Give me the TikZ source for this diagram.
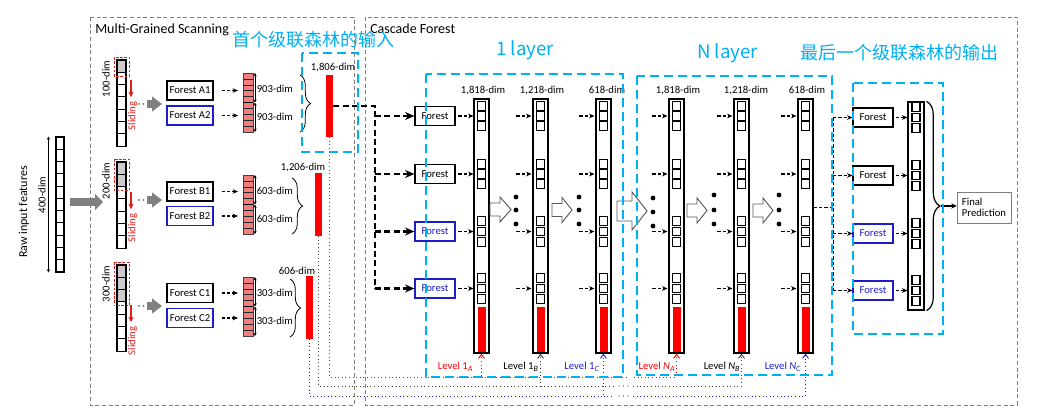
\documentclass[tikz,border=0pt]{standalone}
\usepackage{fontspec}
\setmainfont{Carlito}
\newfontfamily\cjkfont{Noto Sans CJK SC}
\usetikzlibrary{arrows.meta,decorations.pathreplacing,calc}
\definecolor{cyanb}{RGB}{0,176,240}
\definecolor{pinkv}{RGB}{240,128,128}
\definecolor{fblue}{RGB}{30,30,200}
\definecolor{gbrd}{RGB}{125,125,125}
\definecolor{kdot}{RGB}{60,60,60}
\definecolor{lred}{RGB}{225,30,30}
\newcommand\fsz[1]{\fontsize{#1}{#1}\selectfont}
\newcommand\hollowarr[6]{\draw[hollow] (#1,#4-#5) -- (#2,#4-#5) -- (#2,#4-#6) -- (#3,#4) -- (#2,#4+#6) -- (#2,#4+#5) -- (#1,#4+#5) -- cycle;}
\tikzset{
  outerbox/.style={draw=gbrd, line width=0.6pt, dash pattern=on 3pt off 2pt},
  cyanbox/.style={draw=cyanb, line width=2.2pt, dash pattern=on 7pt off 3.5pt},
  forestA/.style={draw=black, line width=0.9pt, minimum width=34.5pt, minimum height=14.25pt, inner sep=0pt, font=\fsz{8}},
  forestB/.style={forestA, draw=fblue},
  cforest/.style={draw=black, line width=0.9pt, minimum width=30pt, minimum height=14.25pt, inner sep=0pt, font=\fsz{8}},
  cforestb/.style={cforest, draw=fblue, text=fblue},
  col/.style={draw=black, line width=0.9pt, minimum width=11.25pt, minimum height=190.5pt, inner sep=0pt},
  sq/.style={draw=black, line width=0.8pt},
  redbar/.style={fill=red, draw=none, minimum width=5.25pt, inner sep=0pt},
  dasharr/.style={draw=black, line width=0.8pt, dash pattern=on 2.5pt off 1.5pt, -{Stealth[length=4pt,width=3.5pt]}},
  bigdash/.style={draw=black, line width=1.6pt, dash pattern=on 4.5pt off 2.5pt},
  bigdasharr/.style={bigdash, -{Stealth[length=7pt,width=6pt]}},
  thindash/.style={draw=black, line width=0.7pt, dash pattern=on 2.5pt off 1.5pt},
  thindasharr/.style={thindash, -{Stealth[length=4pt,width=3.5pt]}},
  hollow/.style={draw=gray!70!black, fill=white, line width=0.7pt},
  lbl/.style={font=\fsz{8}, inner sep=0pt},
  cytext/.style={text=cyanb, font=\cjkfont\fsz{13.5}, inner sep=0pt},
  lvl/.style={dotted, line width=0.7pt},
  lvlarr/.style={lvl, -{Straight Barb[length=3pt,width=4.5pt]}},
  dimarr/.style={line width=0.5pt, {Stealth[length=2.5pt,width=2.5pt]}-{Stealth[length=2.5pt,width=2.5pt]}},
  bracedeco/.style={decorate, decoration={brace, amplitude=#1}},
}
\begin{document}
\begin{tikzpicture}[x=0.75pt,y=-0.75pt]
\useasboundingbox (0,0) rectangle (1039,415);

% outer boxes
\draw[outerbox] (90,17) rectangle (354,405);
\draw[outerbox] (365,17) rectangle (1017,405);
\node[anchor=base west, font=\fsz{10.5}, inner sep=0] (tms) at (95,33) {Multi-Grained Scanning};
\node[anchor=base west, font=\fsz{10.5}, inner sep=0] (tcf) at (370,33) {Cascade Forest};

% raw input
\node[draw, line width=0.8pt, minimum width=6pt, minimum height=101.25pt, inner sep=0] (raw) at (60,204.5) {};
\foreach \i in {1,...,10} \draw[line width=0.8pt] (56,137+\i*12.27) -- (64,137+\i*12.27);
\draw[dimarr, line width=0.6pt] ($(raw.north west)+(-7,0)$) -- ($(raw.south west)+(-7,0)$);
\node[lbl, rotate=90] (d400) at (42,195) {400-dim};
\node[lbl, rotate=90, font=\fsz{9}] (rif) at (24,212) {Raw input features};
\coordinate (ga1) at (70,202); \coordinate (ga2) at (103,202);
\draw[gray, line width=6pt, -{Triangle[length=6pt,width=12pt]}] (ga1) -- (ga2);

% scanning columns
\foreach \nm/\ty/\ng/\lab/\sy in {sa/60/1/100/80, sb/162/2/200/192, sc/265/3/300/305} {
  \node[minimum width=6.75pt, minimum height=64.575pt, inner sep=0] (\nm) at (121.5,\ty+43.05) {};
  \fill[gray!40] (117,\ty) rectangle (126,\ty+\ng*12.3);
  \foreach \i in {0,...,6} \draw[line width=0.8pt] (117,\ty+\i*12.3) rectangle ++(9,12.3);
  \draw[lred, dash pattern=on 2pt off 1.2pt, line width=0.7pt] (114,\ty-3) rectangle (129,\ty+\ng*12.3+4);
  \draw[lred, line width=1pt, -{Stealth[length=4pt,width=4pt]}] (131,\sy) -- (131,\sy+17);
  \node[lbl, rotate=90, text=lred] at (132.5,\sy+36) {Sliding};
  \node[lbl, rotate=90] at (106,\ty+19) {\lab-dim};
}
\foreach \ay in {104,200,306} {
  \fill[gray] (139,\ay) circle (0.9pt);
  \fill[gray] (143.5,\ay) circle (0.9pt);
  \draw[gray, line width=6pt, -{Triangle[length=7.5pt,width=11pt]}] (147,\ay) -- (162,\ay);
}

% forest boxes (scanning)
\node[forestA] (fa1) at (190,90.5) {Forest A1};
\node[forestB] (fa2) at (190,115.5) {Forest A2};
\node[forestA] (fb1) at (190,191.5) {Forest B1};
\node[forestB] (fb2) at (190,216) {Forest B2};
\node[forestA] (fc1) at (190,293) {Forest C1};
\node[forestB] (fc2) at (190,318) {Forest C2};

% pink vectors
\foreach \nm/\ty/\dl in {pa/73/903, pb/175/603, pc/277/303} {
  \node[fill=pinkv, draw=gray!50!black, line width=0.6pt, minimum width=7.5pt, minimum height=44.25pt, inner sep=0] (\nm) at (248,\ty+29.5) {};
  \foreach \i in {1,...,9} \draw[gray!30!black, line width=0.35pt] (243,\ty+\i*5.9) -- (253,\ty+\i*5.9);
  \draw[black, line width=1pt] (243,\ty+29.5) -- (253,\ty+29.5);
  \draw[dimarr] (255,\ty) -- (255,\ty+29.5);
  \draw[dimarr] (255,\ty+29.5) -- (255,\ty+59);
  \node[lbl, anchor=west] at (256.5,\ty+15.5) {\dl-dim};
  \node[lbl, anchor=west] at (256.5,\ty+44) {\dl-dim};
}
\foreach \f/\p in {fa1/pa, fa2/pa, fb1/pb, fb2/pb, fc1/pc, fc2/pc}
  \draw[dasharr, shorten >=3.5pt] ([xshift=6pt]\f.east) -- (\p.west |- \f);

% braces
\draw[bracedeco=8pt, line width=0.6pt] (300,75) -- (300,132);
\draw[bracedeco=8pt, line width=0.6pt] (292,178) -- (292,234);
\draw[bracedeco=8pt, line width=0.6pt] (290,279) -- (290,337);

% concatenated vectors
\node[redbar, minimum height=46.5pt] (ra) at (329.5,106) {};
\node[redbar, minimum height=47.25pt] (rb) at (318.5,204.5) {};
\node[redbar, minimum height=47.25pt] (rc) at (309,307.5) {};
\node[lbl] at (333,67) {1,806-dim};
\node[lbl] at (303,167) {1,206-dim};
\node[lbl] at (297,271) {606-dim};

% cascade level-1 forests
\node[cforest] (cf1) at (435,116) {Forest};
\node[cforest] (cf2) at (435,174) {Forest};
\node[cforestb] (cf3) at (435,231.5) {Forest};
\node[cforestb] (cf4) at (435,288.5) {Forest};
\coordinate (jx) at (375,106);
\draw[bigdash] (ra.east) -- (jx) -- (jx |- cf4);
\foreach \f in {cf1,cf2,cf3,cf4} \draw[bigdasharr] (jx |- \f) -- (\f.west);

\coordinate (r1) at (0,116);
\coordinate (r2) at (0,174);
\coordinate (r3) at (0,231.5);
\coordinate (r4) at (0,288.5);

% cascade columns
\foreach \nm/\cx in {c1a/481.5, c1b/540.5, c1c/603.5, cna/676.5, cnb/741.5, cnc/805.5} {
  \node[col] (\nm) at (\cx,226) {};
  \foreach \gy in {116,174,231.5,288.5}
    \foreach \k in {0,1,2} \draw[sq] (\cx-4,\gy-14.7+\k*10.3) rectangle ++(8,8.8);
  \node[redbar, minimum width=6pt, minimum height=33.75pt] at (\cx,329.5) {};
}
\foreach \f in {cf1,cf2,cf3,cf4} \draw[dasharr] ([xshift=2pt]\f.east) -- (c1a.west |- \f);
\foreach \nm in {c1b, c1c, cna, cnb, cnc}
  \foreach \r in {r1,r2,r3,r4}
    \draw[dasharr] ($(\nm.west |- \r)+(-16,0)$) -- ($(\nm.west |- \r)+(-1,0)$);

\node[lbl] at (483,90) {1,818-dim};
\node[lbl] at (542,90) {1,218-dim};
\node[lbl] at (607,90) {618-dim};
\node[lbl] at (678,90) {1,818-dim};
\node[lbl] at (746,90) {1,218-dim};
\node[lbl] at (807,90) {618-dim};

% hollow arrows and dots
\hollowarr{490}{500}{511}{209.5}{6.5}{12.5}
\hollowarr{552}{562}{572}{210}{6.5}{12.5}
\hollowarr{617}{632}{647}{211}{10}{19}
\hollowarr{687}{697}{707}{210.5}{6.5}{12.5}
\hollowarr{753}{763}{773}{210.5}{6.5}{12.5}
\foreach \dx/\dy in {516/197, 516/210, 516/224, 579/197, 579/210, 579/224, 653/198, 653/212, 653/226, 714/195, 714/210, 714/224, 779/195, 779/210, 779/224}
  \fill (\dx,\dy) circle (1.8pt);

% final stage
\node[cforest] (fd1) at (873,117.5) {Forest};
\node[cforest] (fd2) at (873,175.5) {Forest};
\node[cforestb] (fd3) at (873,233.5) {Forest};
\node[cforestb] (fd4) at (873,290.5) {Forest};
\node[col, minimum width=12pt, minimum height=156pt] (fcol) at (916,206) {};
\foreach \gy in {117.5,175.5,233.5,290.5}
  \foreach \k in {0,1,2} \draw[sq] (912,\gy-14.7+\k*10.3) rectangle ++(8,8.8);
\coordinate (jy) at (833,207);
\draw[thindash] (cnc.east |- jy) -- (jy);
\draw[thindash] (jy |- fd1) -- (jy |- fd4);
\foreach \f in {fd1,fd2,fd3,fd4} {
  \draw[thindasharr] (jy |- \f) -- (\f.west);
  \draw[dasharr] ([xshift=1.5pt]\f.east) -- (fcol.west |- \f);
}
\draw[bracedeco=10pt, line width=0.9pt] ($(fcol.north east)+(2,0)$) -- ($(fcol.south east)+(2,0)$);
\node[draw=gbrd, line width=0.6pt, minimum width=40.5pt, minimum height=23.25pt, align=left, font=\fsz{8}, inner sep=2pt] (fp) at (984,207.5) {Final\\Prediction};
\coordinate (bt) at (941,206);
\draw[line width=0.8pt, -{Stealth[length=4pt,width=4pt]}] (bt) -- (fp.west |- bt);

% level feeds
\coordinate (yr) at (0,377);
\coordinate (yk) at (0,386);
\coordinate (yb) at (0,396);
\draw[lvlarr, red] (ra.south) |- (c1a.south |- yr) -- (c1a.south);
\draw[lvl, red] (c1a.south |- yr) -- (628,377);
\draw[lvlarr, red] (634,377) -| (cna.south);
\draw[lvlarr, kdot] (rb.south) |- (c1b.south |- yk) -- (c1b.south);
\draw[lvl, kdot] (c1b.south |- yk) -- (613,386);
\draw[lvlarr, kdot] (633,386) -| (cnb.south);
\draw[lvlarr, fblue] (rc.south) |- (c1c.south |- yb) -- (c1c.south);
\draw[lvl, fblue] (c1c.south |- yb) -- (613,396);
\draw[lvlarr, fblue] (633,396) -| (cnc.south);
\foreach \dx in {619,623.5,628} {
  \fill[kdot] (\dx,386) circle (0.5pt);
  \fill[fblue] (\dx,396) circle (0.5pt);
}
\node[lbl, text=red] at (455.5,367) {Level 1\textsubscript{\textit{A}}};
\node[lbl] at (521,367) {Level 1\textsubscript{\textit{B}}};
\node[lbl, text=fblue] at (582,367) {Level 1\textsubscript{\textit{C}}};
\node[lbl, text=red] at (657,367) {Level \textit{N}\textsubscript{\textit{A}}};
\node[lbl] at (722,367) {Level \textit{N}\textsubscript{\textit{B}}};
\node[lbl, text=fblue] at (783,367) {Level \textit{N}\textsubscript{\textit{C}}};

% cyan annotations
\node[cytext] (cin) at (313.5,40) {首个级联森林的输入};
\node[cytext] (cout) at (899,53) {最后一个级联森林的输出};
\node[cytext, font=\cjkfont\fsz{14}] (l1) at (525,50) {1 layer};
\node[cytext, font=\cjkfont\fsz{14}] (ln) at (727.5,53) {N layer};
\draw[cyanbox] (302,53) rectangle (358,152);
\draw[cyanbox] (426,74) rectangle (623,377);
\draw[cyanbox] (637,76) rectangle (832,375);
\draw[cyanbox] (853,83) rectangle (943,334);
\end{tikzpicture}
\end{document}
